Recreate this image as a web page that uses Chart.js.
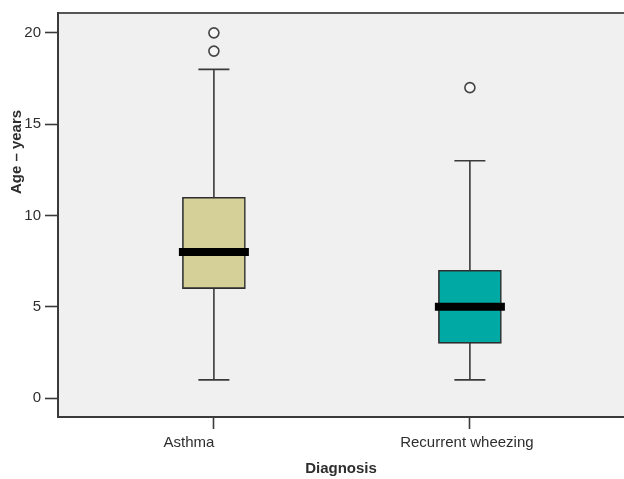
<!DOCTYPE html>
<html>
<head>
<meta charset="utf-8">
<script src="https://cdn.jsdelivr.net/npm/chart.js@4.4.1/dist/chart.umd.min.js"></script>
<style>
  html, body { margin: 0; padding: 0; background: #ffffff; }
  #chart { display: block; }
</style>
</head>
<body>
<canvas id="chart" width="624" height="479"></canvas>
<script>
// box plot values (age in years)
const categories = ["Asthma", "Recurrent wheezing"]
const whisker_low = [1, 1]
const quartile_1 = [6, 3]
const median = [8, 5]
const quartile_3 = [11, 7]
const whisker_high = [18, 13]
const outliers = [[19, 20], [17]]
const box_colors = ["#d4d098", "#00a9a3"]
const y_ticks = [0, 5, 10, 15, 20]

const line_color = "#3a3a3a"
const text_color = "#2e2e2e"

const box_data = categories.map(function(c, i){
    return {x: i, y: [quartile_1[i], quartile_3[i]]}
})
let outlier_data = []
outliers.forEach(function(list, i){
    list.forEach(function(v){ outlier_data.push({x: i, y: v}) })
})

// background, frame, whiskers and medians drawn through the scales
const boxPlotParts = {
    id: "boxPlotParts",
    beforeDraw(chart){
        const ctx = chart.ctx
        const a = chart.chartArea
        ctx.save()
        ctx.fillStyle = "#f0f0f0"
        ctx.fillRect(a.left, a.top, a.right - a.left, a.bottom - a.top)
        ctx.strokeStyle = "#555555"
        ctx.lineWidth = 2
        ctx.beginPath()
        ctx.moveTo(a.left, a.top)
        ctx.lineTo(a.right, a.top)
        ctx.stroke()
        ctx.restore()
    },
    beforeDatasetsDraw(chart){
        const ctx = chart.ctx
        const xs = chart.scales.x
        const ys = chart.scales.y
        ctx.save()
        ctx.strokeStyle = line_color
        ctx.lineWidth = 1.6
        categories.forEach(function(c, i){
            const px = xs.getPixelForValue(i)
            const lo = ys.getPixelForValue(whisker_low[i])
            const hi = ys.getPixelForValue(whisker_high[i])
            ctx.beginPath()
            ctx.moveTo(px, lo); ctx.lineTo(px, hi)
            ctx.moveTo(px - 15.5, lo); ctx.lineTo(px + 15.5, lo)
            ctx.moveTo(px - 15.5, hi); ctx.lineTo(px + 15.5, hi)
            ctx.stroke()
        })
        ctx.restore()
    },
    afterDatasetsDraw(chart){
        const ctx = chart.ctx
        const xs = chart.scales.x
        const ys = chart.scales.y
        ctx.save()
        ctx.strokeStyle = "#000000"
        ctx.lineWidth = 8
        ctx.lineCap = "butt"
        categories.forEach(function(c, i){
            const px = xs.getPixelForValue(i)
            const py = ys.getPixelForValue(median[i])
            ctx.beginPath()
            ctx.moveTo(px - 35, py); ctx.lineTo(px + 35, py)
            ctx.stroke()
        })
        ctx.restore()
    },
    afterDraw(chart){
        const ctx = chart.ctx
        const xs = chart.scales.x
        const a = chart.chartArea
        const shift = [-25, -3]
        ctx.save()
        ctx.fillStyle = text_color
        ctx.font = "15px 'Liberation Sans', Arial, sans-serif"
        ctx.textAlign = "center"
        ctx.textBaseline = "middle"
        categories.forEach(function(c, i){
            ctx.fillText(c, xs.getPixelForValue(i) + shift[i], a.bottom + 26)
        })
        // y axis title sits above the middle in the original
        ctx.font = "bold 15px 'Liberation Sans', Arial, sans-serif"
        ctx.translate(17, 152)
        ctx.rotate(-Math.PI / 2)
        ctx.fillText("Age \u2013 years", 0, 0)
        ctx.restore()
    }
}

new Chart(document.getElementById("chart"), {
    type: "scatter",
    data: {
        datasets: [{
            type: "bar",
            data: box_data,
            backgroundColor: box_colors,
            borderColor: "#2e2e2e",
            borderWidth: 1.6,
            borderSkipped: false,
            barThickness: 63,
            grouped: false,
            order: 2
        }, {
            type: "scatter",
            data: outlier_data,
            pointStyle: "circle",
            pointRadius: 5,
            pointBackgroundColor: "#f6f6f6",
            pointBorderColor: "#444444",
            pointBorderWidth: 1.6,
            order: 1
        }]
    },
    options: {
        responsive: false,
        animation: false,
        layout: {autoPadding: false, padding: {top: 10, left: 0, right: 0, bottom: 0}},
        plugins: {
            legend: {display: false},
            tooltip: {enabled: false}
        },
        scales: {
            x: {
                type: "linear",
                offset: false,
                min: -0.609,
                max: 1.602,
                afterBuildTicks: function(scale){
                    scale.ticks = categories.map(function(c, i){ return {value: i} })
                },
                afterFit: function(scale){ scale.height = 62 },
                ticks: {display: false},
                grid: {
                    offset: false,
                    drawOnChartArea: false,
                    tickLength: 12,
                    tickColor: line_color,
                    tickWidth: 1.6
                },
                border: {color: line_color, width: 2},
                title: {
                    display: true,
                    text: "Diagnosis",
                    color: text_color,
                    font: {family: "'Liberation Sans', Arial, sans-serif", size: 15, weight: "bold"},
                    padding: {top: 0, bottom: 1}
                }
            },
            y: {
                min: -1.033,
                max: 21.087,
                afterBuildTicks: function(scale){
                    scale.ticks = y_ticks.map(function(v){ return {value: v} })
                },
                afterFit: function(scale){ scale.width = 58 },
                ticks: {
                    color: text_color,
                    padding: 4,
                    font: {family: "'Liberation Sans', Arial, sans-serif", size: 15}
                },
                grid: {
                    drawOnChartArea: false,
                    tickLength: 13,
                    tickColor: line_color,
                    tickWidth: 1.6
                },
                border: {color: line_color, width: 2}
            }
        }
    },
    plugins: [boxPlotParts]
})
</script>
</body>
</html>
